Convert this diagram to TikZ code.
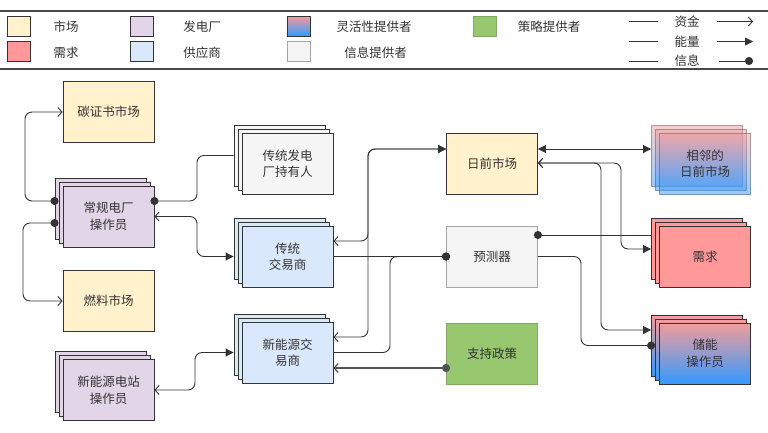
\documentclass[tikz,border=0pt]{standalone}
\usepackage{fontspec}
\setmainfont{Noto Sans CJK SC}
\usetikzlibrary{arrows.meta}
\definecolor{ln}{HTML}{333333}
\definecolor{txt}{HTML}{333333}
\definecolor{mkt}{HTML}{FFF2CC}
\definecolor{gen}{HTML}{E1D5E7}
\definecolor{sup}{HTML}{DAE8FC}
\definecolor{dmd}{HTML}{FF9999}
\definecolor{inf}{HTML}{F5F5F5}
\definecolor{infb}{HTML}{A6A6A6}
\definecolor{pol}{HTML}{97C76F}
\definecolor{polb}{HTML}{82A866}
\definecolor{gtop}{HTML}{F49C9C}
\definecolor{gbot}{HTML}{3399FF}
\tikzset{
  oarr/.tip={Straight Barb[length=4pt,width=9pt]},
  farr/.tip={Triangle[length=8pt,width=8pt]},
  dotarr/.tip={Circle[length=8pt,sep=-4pt]},
  box/.style={draw=ln, line width=0.9pt, minimum width=91pt, minimum height=61pt,
    inner sep=1pt, align=center, text=txt, font=\fontsize{12.5}{16.5}\selectfont},
  mkbox/.style={box, fill=mkt},
  genbox/.style={box, fill=gen},
  supbox/.style={box, fill=sup},
  dmdbox/.style={box, fill=dmd},
  infbox/.style={box, fill=inf},
  polbox/.style={box, fill=pol, draw=polb},
  flexbox/.style={box, top color=gtop, bottom color=gbot},
  adjbox/.style={box, top color=gtop, bottom color=gbot, fill opacity=0.5, draw opacity=0.35, text opacity=1},
  sw/.style={draw=ln, line width=0.9pt, minimum width=23pt, minimum height=20pt, inner sep=0pt},
  lt/.style={text=txt, font=\fontsize{12.5}{15}\selectfont, inner sep=0pt},
  conn/.style={draw=ln, line width=0.9pt, rounded corners=7pt},
}
\newcommand\stackbox[5]{%
  \node[#4] (#1-b) at (#2-8,#3-8) {};
  \node[#4] (#1-m) at (#2-4,#3-4) {};
  \node[#4] (#1) at (#2,#3) {#5};
}
\begin{document}
\begin{tikzpicture}[x=1pt,y=-1pt]
\useasboundingbox (0,0) rectangle (768,432);
\fill[white] (0,0) rectangle (768,432);

% legend
\draw[draw=ln!90, line width=1.2pt] (-3,11) rectangle (771,69);
\node[sw, fill=mkt] (lg1) at (18.5,26) {};
\node[lt] (lt1) at (66,27) {市场};
\node[sw, fill=dmd] (lg2) at (18.5,51.5) {};
\node[lt] (lt2) at (66,52.5) {需求};
\node[sw, fill=gen] (lg3) at (141.5,26) {};
\node[lt] (lt3) at (202,27) {发电厂};
\node[sw, fill=sup] (lg4) at (141.5,51.5) {};
\node[lt] (lt4) at (202,52.5) {供应商};
\node[sw, top color=gtop, bottom color=gbot] (lg5) at (298.5,26) {};
\node[lt] (lt5) at (374,27) {灵活性提供者};
\node[sw, fill=inf, draw=infb] (lg6) at (298.5,51.5) {};
\node[lt] (lt6) at (375.5,52.5) {信息提供者};
\node[sw, fill=pol, draw=polb] (lg7) at (484.5,26.5) {};
\node[lt] (lt7) at (549,27) {策略提供者};
\node[lt] (lt8) at (687,21.5) {资金};
\node[lt] (lt9) at (687,41.5) {能量};
\node[lt] (lt10) at (687,61) {信息};
\coordinate (la1) at (629,21.5); \coordinate (lb1) at (658,21.5);
\coordinate (la2) at (629,41.5); \coordinate (lb2) at (658,41.5);
\coordinate (la3) at (629,61); \coordinate (lb3) at (658,61);
\coordinate (ra1) at (717,21.5); \coordinate (rb1) at (753,21.5);
\coordinate (ra2) at (717,41.5); \coordinate (rb2) at (753,41.5);
\coordinate (ra3) at (719,61); \coordinate (rb3) at (749,61);
\draw[conn] (la1) -- (lb1);
\draw[conn] (la2) -- (lb2);
\draw[conn] (la3) -- (lb3);
\draw[conn,-{oarr}] (ra1) -- (rb1);
\draw[conn,-{farr}] (ra2) -- (rb2);
\draw[conn,-{dotarr}] (ra3) -- (rb3);

% boxes
\node[mkbox] (carbon) at (108.5,112) {碳证书市场};
\stackbox{cpp}{108.5}{216.5}{genbox}{常规电厂\\操作员}
\node[mkbox] (fuel) at (108.5,301) {燃料市场};
\stackbox{nre}{108.5}{390}{genbox}{新能源电站\\操作员}
\stackbox{hold}{287.5}{163.5}{infbox}{传统发电\\厂持有人}
\stackbox{trad}{287.5}{256.5}{supbox}{传统\\交易商}
\stackbox{newtr}{287.5}{352.5}{supbox}{新能源交\\易商}
\node[mkbox] (dam) at (492,163.5) {日前市场};
\node[infbox, draw=infb] (pred) at (492,256.5) {预测器};
\node[polbox] (policy) at (492,353.5) {支持政策};
\stackbox{adj}{705}{163.5}{adjbox}{相邻的\\日前市场}
\stackbox{dem}{705}{257}{dmdbox}{需求}
\stackbox{sto}{705}{353.5}{flexbox}{储能\\操作员}

% connectors
\draw[conn, {dotarr}-{oarr}] (cpp-b.west |- 0,201) -- (25,201) |- (carbon.west);
\draw[conn, {dotarr}-{oarr}] (cpp-b.west |- 0,223) -- (23,223) |- (fuel.west);
\draw[conn, {dotarr}-] (cpp.east |- 0,201) -- (197,201) |- (hold-b.west);
\draw[conn, {oarr}-{farr}] (cpp.east) -- (197,216.5) |- (trad-b.west |- trad.center);
\draw[conn, {oarr}-{farr}] (trad.east |- 0,241) -- (368,241) |- (dam.west |- 0,149);
\draw[conn, {oarr}-{farr}] (newtr.east |- 0,337) -- (368,337) |- (dam.west |- 0,149);
\draw[conn, -{dotarr}] (trad.east) -- (pred.west);
\draw[conn, -{dotarr}] (newtr.east) -- (390,352.5) |- (pred.west);
\draw[conn, draw=ln!85, line width=1.2pt, {dotarr}-{oarr}] (policy.west |- 0,368) -- (newtr.east |- 0,368);
\draw[conn, {oarr}-{farr}] (nre.east) -- (195,390) |- (newtr-b.west |- newtr.center);
\draw[conn, {farr}-{farr}] (dam.east |- 0,149) -- (adj-b.west |- 0,149);
\draw[conn, {oarr}-{farr}] (dam.east |- 0,163) -- (621,163) |- (dem-b.west);
\draw[conn, {oarr}-{farr}] (dam.east |- 0,163) -- (601,163) |- (sto-b.west |- 0,330);
\draw[conn, {dotarr}-] (pred.east |- 0,235) -- (dem-b.west |- 0,235);
\draw[conn, -{dotarr}] (pred.east) -- (581,256.5) |- (sto-b.west);
\end{tikzpicture}
\end{document}
